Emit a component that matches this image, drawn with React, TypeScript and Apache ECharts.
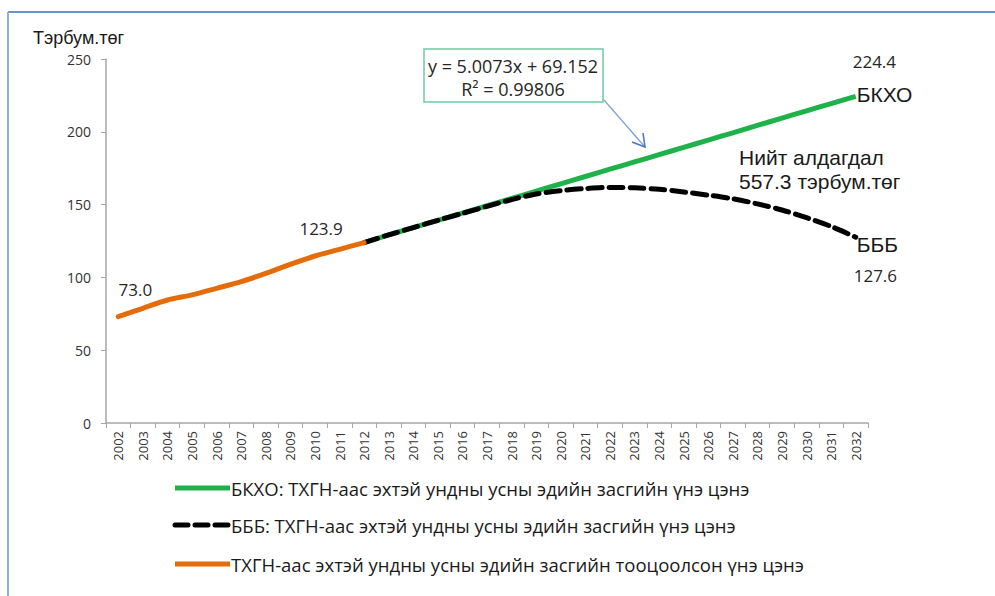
import React, { useEffect, useRef } from "react";
import * as echarts from "echarts";

const years = [
  "2002","2003","2004","2005","2006","2007","2008","2009","2010","2011","2012",
  "2013","2014","2015","2016","2017","2018","2019","2020","2021","2022",
  "2023","2024","2025","2026","2027","2028","2029","2030","2031","2032",
];

// Estimated (historical) value, 2002-2012
const orangeValues = [73.0, 78.8, 84.5, 88.0, 92.5, 97.1, 102.8, 109.0, 114.7, 119.3, 123.9];
// BKXO, 2012-2032
const greenValues = [123.9, 129.2, 134.2, 139.2, 144.2, 149.2, 154.2, 159.3, 164.3, 169.3, 174.3,
  179.3, 184.3, 189.3, 194.3, 199.3, 204.4, 209.4, 214.4, 219.4, 224.4];
// BBB, 2012-2032
const blackValues = [123.9, 129.2, 134.2, 139.2, 144.0, 148.8, 153.4, 157.3, 159.6, 161.0, 161.8,
  161.5, 160.5, 158.7, 156.5, 154.0, 150.5, 146.3, 141.0, 135.0, 127.6];

const yTicks = [0, 50, 100, 150, 200, 250];

const legendNames = [
  "БКХО: ТХГН-аас эхтэй ундны усны эдийн засгийн үнэ цэнэ",
  "БББ: ТХГН-аас эхтэй ундны усны эдийн засгийн үнэ цэнэ",
  "ТХГН-аас эхтэй ундны усны эдийн засгийн тооцоолсон үнэ цэнэ",
];

const GREEN = "#1fb24a";
const ORANGE = "#e46c0a";
const BLACK = "#000000";
const LABEL_FONT = "'Open Sans', 'Noto Sans', sans-serif";
const ARIAL = "'Liberation Sans', Arial, sans-serif";

export default function App() {
  const ref = useRef<HTMLDivElement>(null);

  useEffect(() => {
    document.body.style.margin = "0";
    if (!ref.current) return;
    const chart = echarts.init(ref.current, null, { renderer: "svg" });
    const pad = (n: number) => new Array(n).fill("-");
    const orangeData = [...orangeValues, ...pad(years.length - orangeValues.length)];
    const greenData = [...pad(years.length - greenValues.length), ...greenValues];
    const blackData = [...pad(years.length - blackValues.length), ...blackValues];

    chart.setOption({
      animation: false,
      backgroundColor: "#ffffff",
      grid: { left: 106, right: 127, top: 59, bottom: 173, containLabel: false },
      xAxis: {
        type: "category",
        data: years,
        boundaryGap: true,
        axisLine: { lineStyle: { color: "#a6a6a6", width: 1.5 } },
        axisTick: { show: true, length: 5, alignWithLabel: false, lineStyle: { color: "#a6a6a6" } },
        axisLabel: { rotate: 90, interval: 0, fontSize: 13, color: "#333333", fontFamily: LABEL_FONT, margin: 8 },
        splitLine: { show: false },
      },
      yAxis: {
        type: "value",
        min: yTicks[0],
        max: yTicks[yTicks.length - 1],
        interval: 50,
        axisLine: { show: true, lineStyle: { color: "#a6a6a6", width: 1.5 } },
        axisTick: { show: true, length: 5, lineStyle: { color: "#a6a6a6" } },
        axisLabel: { fontSize: 14, color: "#333333", fontFamily: LABEL_FONT, margin: 15 },
        splitLine: { show: false },
      },
      series: [
        {
          name: legendNames[0], type: "line", data: greenData, symbol: "none", smooth: 0.2,
          lineStyle: { color: GREEN, width: 5 }, itemStyle: { color: GREEN }, z: 2,
        },
        {
          name: legendNames[1], type: "line", data: blackData, symbol: "none", smooth: 0.3,
          lineStyle: { color: BLACK, width: 5, type: [14, 7], cap: "round" }, itemStyle: { color: BLACK }, z: 3,
        },
        {
          name: legendNames[2], type: "line", data: orangeData, symbol: "none", smooth: 0.3,
          lineStyle: { color: ORANGE, width: 5, cap: "round" }, itemStyle: { color: ORANGE }, z: 4,
        },
      ],
    });

    const px = (i: number, v: number) => chart.convertToPixel({ gridIndex: 0 }, [i, v]) as number[];
    const pOStart = px(0, orangeValues[0]);
    const pOEnd = px(orangeValues.length - 1, orangeValues[orangeValues.length - 1]);
    const last = years.length - 1;
    const pGEnd = px(last, greenValues[greenValues.length - 1]);
    const pBEnd = px(last, blackValues[blackValues.length - 1]);

    const numStyle = { fontSize: 17, fill: "#262626", fontFamily: LABEL_FONT };
    const bigStyle = { fontSize: 21, fill: "#1a1a1a", fontFamily: ARIAL };

    const legendRows = [488, 525, 564];
    const legendColors = [GREEN, BLACK, ORANGE];

    const graphics: any[] = [
      // frame lines
      { type: "line", shape: { x1: 8, y1: 12, x2: 995, y2: 12 }, style: { stroke: "#2e75b6", lineWidth: 1.5 } },
      { type: "line", shape: { x1: 8, y1: 12, x2: 8, y2: 596 }, style: { stroke: "#8fb0d6", lineWidth: 2 } },
      // axis name
      { type: "text", x: 33, y: 38, style: { text: "Тэрбум.төг", fontSize: 18, fill: "#1a1a1a", fontFamily: ARIAL, textVerticalAlign: "middle" } },
      // value labels
      { type: "text", x: pOStart[0] + 17, y: pOStart[1] - 27, style: { ...numStyle, text: "73.0", textAlign: "center", textVerticalAlign: "middle" } },
      { type: "text", x: pOEnd[0] - 43, y: pOEnd[1] - 14, style: { ...numStyle, text: "123.9", textAlign: "center", textVerticalAlign: "middle" } },
      { type: "text", x: pGEnd[0] - 3, y: pGEnd[1] - 35, style: { ...numStyle, text: "224.4", textAlign: "left", textVerticalAlign: "middle" } },
      { type: "text", x: pGEnd[0] + 1, y: pGEnd[1] - 2, style: { ...bigStyle, text: "БКХО", textAlign: "left", textVerticalAlign: "middle" } },
      { type: "text", x: pBEnd[0] + 1, y: pBEnd[1] + 7, style: { ...bigStyle, text: "БББ", textAlign: "left", textVerticalAlign: "middle" } },
      { type: "text", x: pBEnd[0] - 2, y: pBEnd[1] + 38, style: { ...numStyle, text: "127.6", textAlign: "left", textVerticalAlign: "middle" } },
      { type: "text", x: 739, y: 157, style: { ...bigStyle, text: "Нийт алдагдал", textAlign: "left", textVerticalAlign: "middle" } },
      { type: "text", x: 739, y: 181, style: { ...bigStyle, text: "557.3 тэрбум.төг", textAlign: "left", textVerticalAlign: "middle" } },
      // equation box
      { type: "rect", shape: { x: 424, y: 49, width: 179, height: 53 }, style: { fill: "#ffffff", stroke: "#6fcaa2", lineWidth: 1.5 }, z: 10 },
      { type: "text", x: 513, y: 66, z: 11, style: { ...numStyle, fontSize: 18, text: "y = 5.0073x + 69.152", textAlign: "center", textVerticalAlign: "middle" } },
      { type: "text", x: 513, y: 89, z: 11, style: { ...numStyle, fontSize: 18, text: "R² = 0.99806", textAlign: "center", textVerticalAlign: "middle" } },
      // arrow
      { type: "line", shape: { x1: 604, y1: 100, x2: 645, y2: 147 }, style: { stroke: "#7f9fd3", lineWidth: 1.2 }, z: 10 },
      { type: "polyline", shape: { points: [[632, 142], [645, 147], [643, 133]] }, style: { stroke: "#4a78c8", lineWidth: 1.6, fill: "none" }, z: 10 },
    ];

    legendRows.forEach((y, k) => {
      graphics.push({
        type: "line",
        shape: { x1: 175, y1: y, x2: 230, y2: y },
        style: { stroke: legendColors[k], lineWidth: 5, lineCap: k === 1 ? "round" : "butt", lineDash: k === 1 ? [13, 7] : null },
      });
      graphics.push({
        type: "text", x: 231, y: y,
        style: { text: legendNames[k], fontSize: 18.5, fill: "#1a1a1a", fontFamily: LABEL_FONT, textVerticalAlign: "middle" },
      });
    });

    chart.setOption({ graphic: graphics });

    return () => chart.dispose();
  }, []);

  return <div ref={ref} style={{ width: 995, height: 596 }} />;
}
